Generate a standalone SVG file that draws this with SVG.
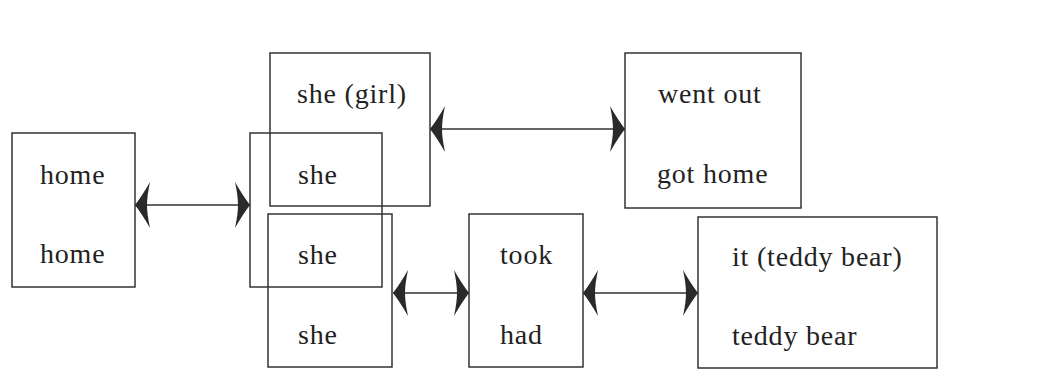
<svg xmlns="http://www.w3.org/2000/svg" width="1053" height="390" viewBox="0 0 1053 390">
  <style>
    .box { fill: none; stroke: #333; stroke-width: 1.5; }
    .lbl { font-family: "Liberation Serif", "DejaVu Serif", serif; font-size: 28px; fill: #222; letter-spacing: 0.8px; }
    .link { fill: none; stroke: #333; stroke-width: 1.6; marker-start: url(#head); marker-end: url(#head); }
  </style>
  <defs>
    <!-- swept, barbed arrowhead; tip sits at the path end -->
    <marker id="head" markerUnits="userSpaceOnUse" orient="auto-start-reverse"
            viewBox="-18 -25 20 50" refX="0" refY="0" markerWidth="20" markerHeight="50">
      <path d="M0,0 Q-7,-9 -15,-23 Q-12,-9 -12,0 Q-12,9 -15,23 Q-7,9 0,0 Z" fill="#2a2a2a"/>
    </marker>
  </defs>

  <rect width="1053" height="390" fill="#ffffff"/>

  <g id="node-home">
    <rect class="box" x="12" y="133" width="123" height="154"/>
    <text class="lbl" x="40" y="184">home</text>
    <text class="lbl" x="40" y="263">home</text>
  </g>

  <g id="node-she-girl">
    <rect class="box" x="270" y="53" width="160" height="153"/>
    <text class="lbl" x="297" y="103">she (girl)</text>
  </g>

  <g id="node-she-mid">
    <rect class="box" x="250" y="133" width="132" height="154"/>
    <text class="lbl" x="298" y="184">she</text>
  </g>

  <g id="node-she-low">
    <rect class="box" x="268" y="214" width="124" height="153"/>
    <text class="lbl" x="298" y="264">she</text>
    <text class="lbl" x="298" y="344">she</text>
  </g>

  <g id="node-took">
    <rect class="box" x="469" y="214" width="114" height="153"/>
    <text class="lbl" x="500" y="264">took</text>
    <text class="lbl" x="500" y="344">had</text>
  </g>

  <g id="node-went-out">
    <rect class="box" x="625" y="53" width="176" height="155"/>
    <text class="lbl" x="658" y="103">went out</text>
    <text class="lbl" x="657" y="183">got home</text>
  </g>

  <g id="node-teddy">
    <rect class="box" x="698" y="217" width="239" height="151"/>
    <text class="lbl" x="732" y="266">it (teddy bear)</text>
    <text class="lbl" x="732" y="345">teddy bear</text>
  </g>

  <g id="connectors">
    <line class="link" x1="135" y1="205" x2="250" y2="205"/>
    <line class="link" x1="430" y1="129" x2="625" y2="129"/>
    <line class="link" x1="393" y1="293" x2="469" y2="293"/>
    <line class="link" x1="583" y1="293" x2="698" y2="293"/>
  </g>
</svg>
